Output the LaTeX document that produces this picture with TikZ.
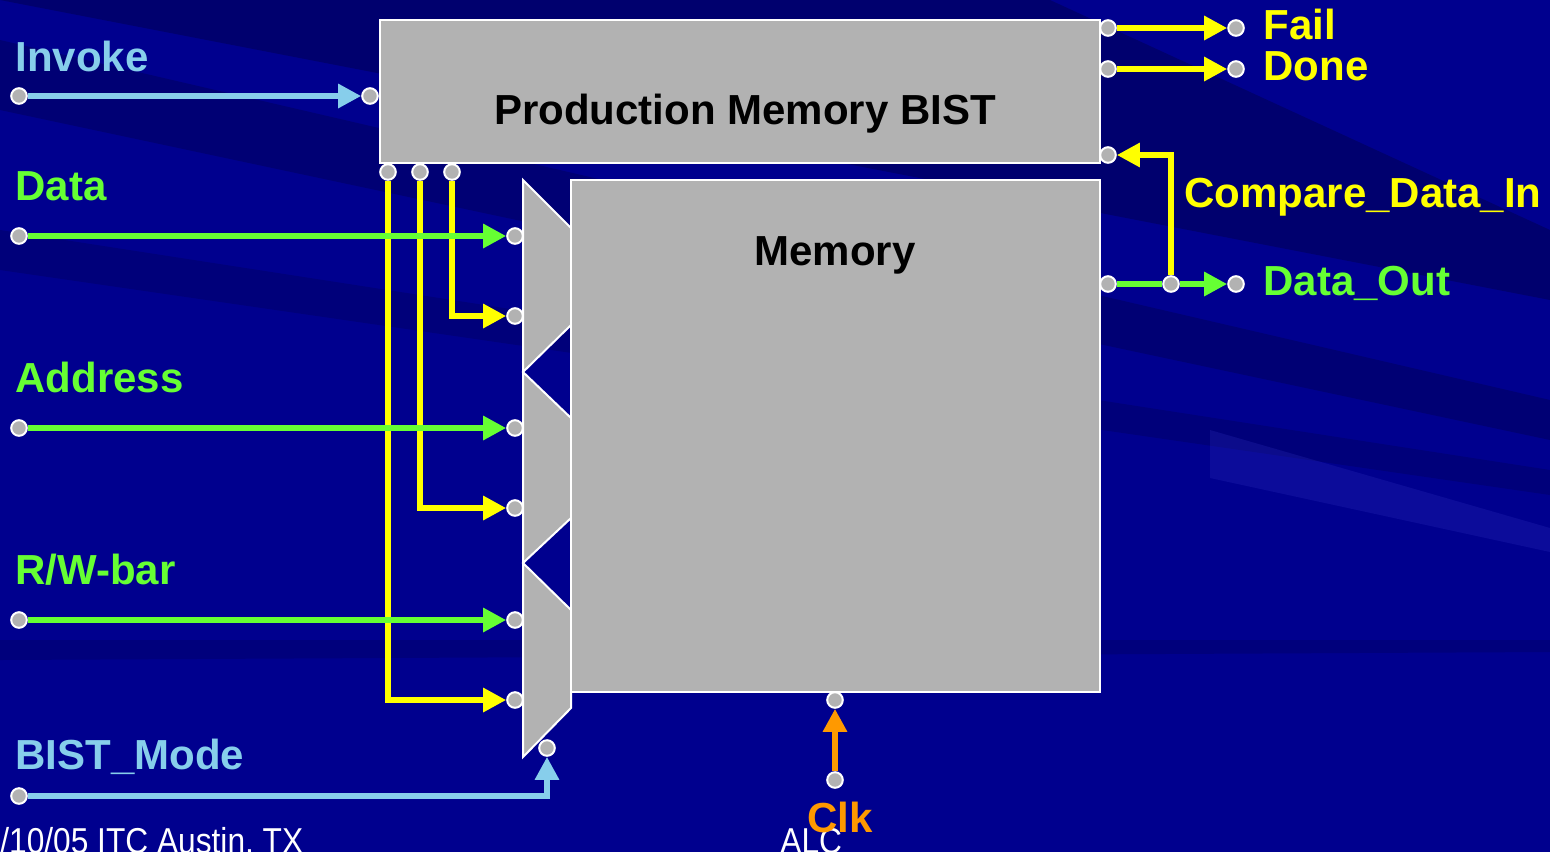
\documentclass[tikz,border=0pt]{standalone}
\usepackage{fontspec}
\setmainfont{Liberation Sans}
\newfontfamily\footfont[FakeStretch=0.88]{Liberation Sans}
\usetikzlibrary{arrows.meta}
\definecolor{bg}{HTML}{00008E}
\definecolor{bgdark}{HTML}{000055}
\definecolor{bglight}{HTML}{3030C0}
\definecolor{blockgray}{HTML}{B2B2B2}
\definecolor{sky}{HTML}{87CEEB}
\definecolor{lime}{HTML}{66FF33}
\definecolor{sigyellow}{HTML}{FFFF00}
\definecolor{clkorange}{HTML}{FF9900}

\begin{document}
\begin{tikzpicture}[x=0.5pt,y=-0.5pt,>={Triangle[length=11.5pt,width=11.5pt]},
  blk/.style={draw=white,fill=blockgray,line width=1pt},
  port/.style={circle,draw=white,fill=blockgray,line width=1pt,
    inner sep=0pt,minimum size=7.8pt},
  sig/.style={line width=3.1pt},
  lbl/.style={anchor=base west,inner sep=0pt,
    font=\fontsize{21}{25}\selectfont\bfseries},
  title/.style={anchor=base,inner sep=0pt,
    font=\fontsize{21}{25}\selectfont\bfseries},
  foot/.style={anchor=base west,inner sep=0pt,text=white,
    font=\footfont\fontsize{18}{21}\selectfont}]

  % background with streaks
  \useasboundingbox (0,0) rectangle (1550,852);
  \fill[bg] (0,0) rectangle (1550,852);
  \fill[bgdark,opacity=.55] (0,0) -- (1050,0) -- (1550,230) -- (1550,300) -- cycle;
  \fill[bgdark,opacity=.45] (0,40) -- (1550,400) -- (1550,440) -- (0,110) -- cycle;
  \fill[bgdark,opacity=.35] (0,230) -- (1550,470) -- (1550,495) -- (0,270) -- cycle;
  \fill[bgdark,opacity=.3] (0,640) -- (1550,640) -- (1550,652) -- (0,660) -- cycle;
  \fill[bglight,opacity=.25] (1210,430) -- (1550,528) -- (1550,552) -- (1210,478) -- cycle;

  % blocks
  \draw[blk] (523,180) -- (571,228) -- (571,325) -- (523,372) -- (571,418)
    -- (571,518) -- (523,563) -- (571,610) -- (571,708) -- (523,757) -- cycle;
  \node[blk,minimum width=360pt,minimum height=71.5pt,inner sep=0pt]
    (bist) at (740,91.5) {};
  \node[blk,minimum width=264.5pt,minimum height=256pt,inner sep=0pt]
    (mem) at (835.5,436) {};
  \node[title] (bisttxt) at (745,124) {Production Memory BIST};
  \node[title] (memtxt) at (835,265) {Memory};

  % ports
  \node[port] (invA) at (19,96) {};
  \node[port] (invB) at (370,96) {};
  \node[port] (datA) at (19,236) {};
  \node[port] (mux1) at (515,236) {};
  \node[port] (mux2) at (515,316) {};
  \node[port] (adrA) at (19,428) {};
  \node[port] (mux3) at (515,428) {};
  \node[port] (mux4) at (515,508) {};
  \node[port] (rwA) at (19,620) {};
  \node[port] (mux5) at (515,620) {};
  \node[port] (mux6) at (515,700) {};
  \node[port] (modeA) at (19,796) {};
  \node[port] (modeB) at (547,748) {};
  \node[port] (bo1) at (388,172) {};
  \node[port] (bo2) at (420,172) {};
  \node[port] (bo3) at (452,172) {};
  \node[port] (failA) at (1108,28) {};
  \node[port] (failB) at (1236,28) {};
  \node[port] (doneA) at (1108,69) {};
  \node[port] (doneB) at (1236,69) {};
  \node[port] (cmp) at (1108,155) {};
  \node[port] (doutA) at (1108,284) {};
  \node[port] (jct) at (1171,284) {};
  \node[port] (doutB) at (1236,284) {};
  \node[port] (clkB) at (835,700) {};
  \node[port] (clkA) at (835,780) {};

  % connectors
  \draw[sig,sky,->] (invA) -- (invB);
  \draw[sig,sigyellow,->] (bo3) |- (mux2);
  \draw[sig,sigyellow,->] (bo2) |- (mux4);
  \draw[sig,sigyellow,->] (bo1) |- (mux6);
  \draw[sig,lime,->] (datA) -- (mux1);
  \draw[sig,lime,->] (adrA) -- (mux3);
  \draw[sig,lime,->] (rwA) -- (mux5);
  \draw[sig,sky,->] (modeA) -| (modeB);
  \draw[sig,sigyellow,->] (failA) -- (failB);
  \draw[sig,sigyellow,->] (doneA) -- (doneB);
  \draw[sig,sigyellow,->] (jct) |- (cmp);
  \draw[sig,lime] (doutA) -- (jct);
  \draw[sig,lime,->] (jct) -- (doutB);
  \draw[sig,clkorange,->] (clkA) -- (clkB);

  % labels
  \node[lbl,text=sky] (invtxt) at (15,71) {Invoke};
  \node[lbl,text=lime] (dattxt) at (15,200) {Data};
  \node[lbl,text=lime] (adrtxt) at (15,392) {Address};
  \node[lbl,text=lime] (rwtxt) at (15,584) {R/W-bar};
  \node[lbl,text=sky] (modetxt) at (15,769) {BIST\_Mode};
  \node[lbl,text=sigyellow] (failtxt) at (1263,39) {Fail};
  \node[lbl,text=sigyellow] (donetxt) at (1263,80) {Done};
  \node[lbl,text=sigyellow] (cmptxt) at (1184,207) {Compare\_Data\_In};
  \node[lbl,text=lime] (douttxt) at (1263,295) {Data\_Out};

  % footer
  \node[foot] (datetxt) at (0,853) {/10/05 ITC Austin, TX};
  \node[foot] (alctxt) at (780,853) {ALC};
  \node[lbl,text=clkorange] (clktxt) at (807,832) {Clk};
\end{tikzpicture}
\end{document}
